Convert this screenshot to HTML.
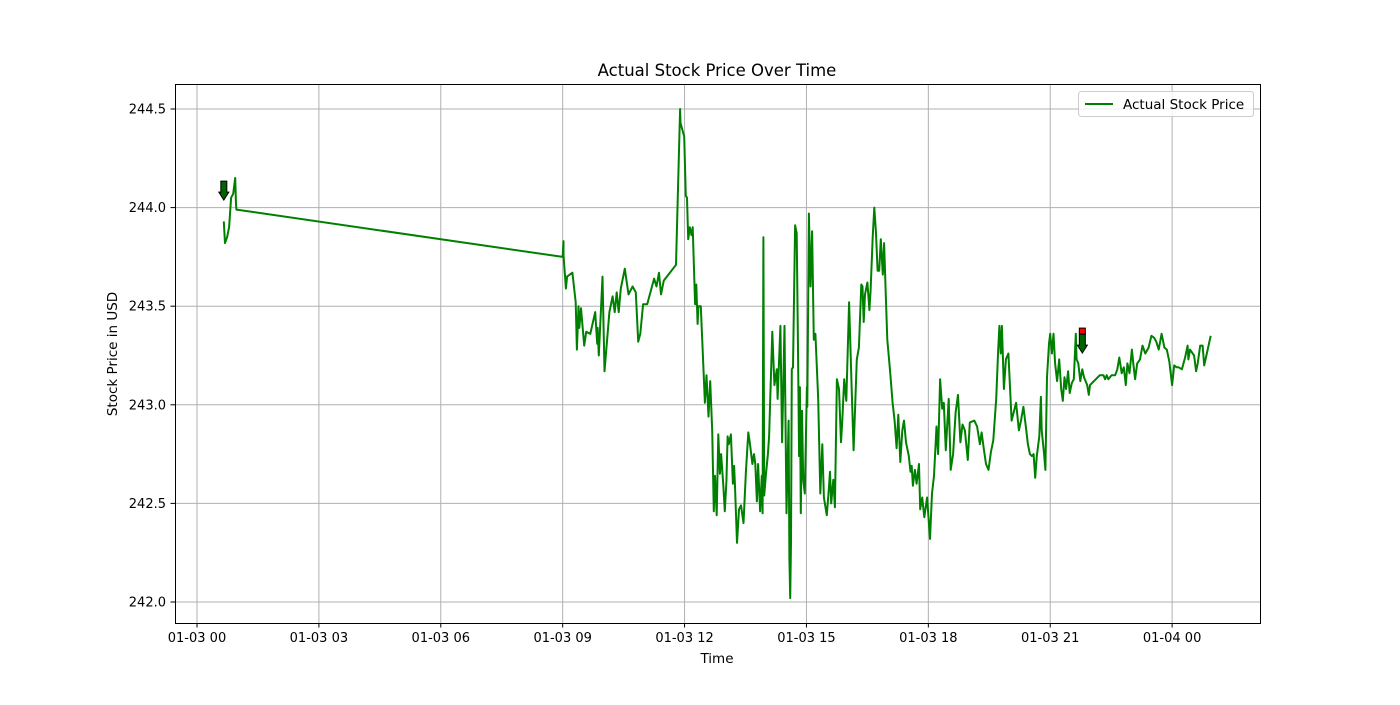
<!DOCTYPE html>
<html><head><meta charset="utf-8"><style>
html,body{margin:0;padding:0;background:#fff;}
svg text{font-family:"DejaVu Sans","Liberation Sans",sans-serif;fill:#000;}
</style></head><body>
<svg id="chart" width="1400" height="700" xmlns="http://www.w3.org/2000/svg">
<rect width="1400" height="700" fill="#fff"/>
<text x="717" y="76" font-size="16.5" text-anchor="middle">Actual Stock Price Over Time</text>
<g id="grid"></g>
<g id="series"></g>
<g id="markers"></g>
<rect x="175.5" y="84.5" width="1085" height="539" fill="none" stroke="#000" stroke-width="1"/>
<g id="xticks"></g><g id="yticks"></g>
<text x="717" y="663" font-size="13.5" text-anchor="middle">Time</text>
<text transform="translate(117,354) rotate(-90)" font-size="13.5" text-anchor="middle">Stock Price in USD</text>
<g>
<rect x="1078.5" y="91.5" width="175" height="25" rx="3" fill="#fff" fill-opacity="0.8" stroke="#ccc"/>
<line x1="1085" y1="104" x2="1113" y2="104" stroke="#008000" stroke-width="2"/>
<text x="1123" y="109" font-size="13.5">Actual Stock Price</text>
</g>
</svg>
<script>
const times=[0.66,0.69,0.74,0.79,0.84,0.89,0.94,0.96,0.97,9.0,9.02,9.02,9.08,9.11,9.24,9.32,9.35,9.39,9.41,9.45,9.53,9.58,9.68,9.80,9.85,9.86,9.89,9.98,10.03,10.15,10.23,10.28,10.33,10.38,10.43,10.53,10.62,10.72,10.80,10.86,10.91,10.98,11.08,11.25,11.31,11.37,11.42,11.49,11.79,11.89,11.90,11.99,12.03,12.06,12.09,12.13,12.17,12.20,12.26,12.29,12.32,12.34,12.40,12.50,12.54,12.59,12.63,12.68,12.72,12.75,12.79,12.83,12.87,12.90,12.95,12.99,13.03,13.06,13.09,13.14,13.19,13.22,13.24,13.29,13.34,13.39,13.45,13.51,13.57,13.61,13.67,13.71,13.74,13.78,13.81,13.86,13.90,13.92,13.94,13.96,14.00,14.05,14.08,14.16,14.21,14.27,14.29,14.36,14.40,14.46,14.51,14.56,14.58,14.60,14.62,14.64,14.67,14.72,14.76,14.79,14.82,14.84,14.86,14.89,14.92,14.96,15.01,15.02,15.06,15.10,15.14,15.18,15.22,15.29,15.34,15.39,15.43,15.50,15.55,15.58,15.61,15.66,15.70,15.75,15.80,15.85,15.88,15.93,15.98,16.05,16.11,16.16,16.24,16.29,16.35,16.38,16.41,16.44,16.50,16.55,16.58,16.63,16.67,16.71,16.75,16.79,16.83,16.88,16.91,16.95,16.99,17.06,17.12,17.17,17.22,17.26,17.31,17.36,17.40,17.45,17.52,17.56,17.59,17.62,17.67,17.71,17.77,17.80,17.85,17.90,17.97,18.04,18.09,18.14,18.20,18.24,18.29,18.34,18.38,18.43,18.50,18.55,18.61,18.67,18.73,18.79,18.84,18.90,18.97,19.02,19.13,19.20,19.27,19.31,19.37,19.42,19.48,19.54,19.60,19.67,19.72,19.75,19.78,19.81,19.86,19.91,19.97,20.05,20.11,20.16,20.19,20.23,20.28,20.34,20.41,20.45,20.50,20.55,20.59,20.63,20.67,20.73,20.77,20.79,20.85,20.88,20.92,20.97,21.00,21.04,21.08,21.12,21.17,21.22,21.27,21.31,21.35,21.39,21.44,21.48,21.53,21.58,21.63,21.65,21.69,21.74,21.79,21.83,21.87,21.91,21.95,21.98,22.22,22.31,22.35,22.39,22.43,22.51,22.60,22.65,22.70,22.76,22.81,22.86,22.90,22.95,23.01,23.05,23.09,23.14,23.21,23.27,23.34,23.42,23.49,23.56,23.61,23.67,23.74,23.81,23.87,23.93,24.00,24.05,24.11,24.16,24.24,24.32,24.38,24.40,24.44,24.54,24.59,24.63,24.69,24.75,24.79,24.95];
const prices=[243.93,243.82,243.85,243.90,244.05,244.07,244.15,244.02,243.99,243.75,243.83,243.76,243.59,243.65,243.67,243.52,243.28,243.50,243.39,243.49,243.30,243.37,243.36,243.47,243.31,243.39,243.25,243.65,243.17,243.47,243.55,243.47,243.57,243.47,243.59,243.69,243.56,243.60,243.57,243.32,243.36,243.51,243.51,243.64,243.60,243.67,243.56,243.63,243.71,244.50,244.43,244.36,244.06,244.05,243.84,243.90,243.86,243.90,243.51,243.61,243.41,243.50,243.50,243.01,243.15,242.94,243.12,242.87,242.46,242.64,242.44,242.85,242.65,242.75,242.60,242.46,242.61,242.84,242.80,242.85,242.60,242.69,242.60,242.30,242.47,242.49,242.40,242.66,242.86,242.80,242.70,242.75,242.70,242.51,242.70,242.46,242.64,242.45,243.85,242.54,242.64,242.75,242.84,243.37,243.10,243.18,243.03,243.40,242.81,243.40,242.45,242.92,242.22,242.02,242.30,243.18,243.19,243.91,243.87,243.33,242.74,243.09,242.45,242.97,242.62,242.55,243.09,242.99,243.97,243.60,243.88,243.33,243.36,243.03,242.55,242.80,242.53,242.44,242.57,242.66,242.50,242.62,242.48,243.13,243.08,242.81,242.91,243.13,243.02,243.52,243.11,242.77,243.23,243.29,243.61,243.60,243.42,243.56,243.62,243.48,243.58,243.85,244.00,243.88,243.68,243.68,243.84,243.66,243.82,243.57,243.33,243.17,243.01,242.92,242.78,242.95,242.71,242.87,242.92,242.81,242.74,242.66,242.69,242.59,242.67,242.60,242.70,242.47,242.53,242.43,242.53,242.32,242.55,242.64,242.89,242.75,243.13,242.98,243.01,242.77,243.03,242.67,242.75,242.96,243.05,242.81,242.90,242.87,242.72,242.91,242.92,242.89,242.80,242.86,242.77,242.70,242.67,242.76,242.82,243.03,243.28,243.40,243.26,243.40,243.08,243.23,243.26,242.92,242.97,243.01,242.95,242.87,242.92,242.99,242.87,242.80,242.75,242.74,242.75,242.63,242.74,242.84,243.04,242.87,242.75,242.67,243.14,243.31,243.36,243.26,243.36,243.21,243.12,243.23,243.08,243.02,243.14,243.08,243.17,243.06,243.11,243.13,243.36,243.23,243.21,243.12,243.18,243.14,243.12,243.10,243.05,243.10,243.15,243.15,243.13,243.15,243.13,243.15,243.15,243.18,243.24,243.16,243.19,243.10,243.21,243.16,243.28,243.20,243.13,243.21,243.23,243.30,243.26,243.29,243.35,243.34,243.32,243.28,243.36,243.29,243.28,243.22,243.10,243.20,243.19,243.19,243.18,243.24,243.30,243.23,243.28,243.25,243.17,243.21,243.30,243.30,243.20,243.35];
const xTickHours=[0,3,6,9,12,15,18,21,24];
const xTickLabels=["01-03 00","01-03 03","01-03 06","01-03 09","01-03 12","01-03 15","01-03 18","01-03 21","01-04 00"];
const yTickValues=[242.0,242.5,243.0,243.5,244.0,244.5];
const yTickLabels=["242.0","242.5","243.0","243.5","244.0","244.5"];
const signalTimes=[0.66,21.79];
const signalPrices=[244.094,243.318];
const signalTypes=["sell","both"];

const NS="http://www.w3.org/2000/svg";
const X0=197, XPH=40.63, Y0=109, YPU=197.2, YTOP=244.5;
function xs(t){return X0+t*XPH;}
function ys(p){return Y0+(YTOP-p)*YPU;}
function mk(tag,attrs,parent){const e=document.createElementNS(NS,tag);for(const k in attrs)e.setAttribute(k,attrs[k]);parent.appendChild(e);return e;}
const grid=document.getElementById('grid'),xt=document.getElementById('xticks'),yt=document.getElementById('yticks');
xTickHours.forEach((h,i)=>{const x=xs(h);
 const g=mk('line',{x1:x,x2:x,y1:84,y2:623,stroke:'#b0b0b0','stroke-width':1},grid);
 
 
 const t=mk('line',{x1:x,x2:x,y1:623,y2:627.5,stroke:'#000'},xt);
 
 
 const l=mk('text',{x:x,y:642,'font-size':13,'text-anchor':'middle'},xt);l.textContent=xTickLabels[i];
 
 
});
yTickValues.forEach((v,i)=>{const y=ys(v);
 const g=mk('line',{x1:175,x2:1260,y1:y,y2:y,stroke:'#b0b0b0','stroke-width':1},grid);
 
 
 const t=mk('line',{x1:170.5,x2:175,y1:y,y2:y,stroke:'#000'},yt);
 
 
 const l=mk('text',{x:166,y:y+4.5,'font-size':13,'text-anchor':'end'},yt);l.textContent=yTickLabels[i];
 
 
});
const pts=times.map((t,i)=>xs(t).toFixed(1)+','+ys(prices[i]).toFixed(1)).join(' ');
const line=mk('polyline',{points:pts,fill:'none',stroke:'#008000','stroke-width':2,'stroke-linejoin':'round'},document.getElementById('series'));


const mg=document.getElementById('markers');
signalTimes.forEach((t,i)=>{const x=xs(t),y=ys(signalPrices[i]);
 const a=mk('path',{d:`M${x-3},${y-8} L${x+3},${y-8} L${x+3},${y+3} L${x+5},${y+3} L${x},${y+11} L${x-5},${y+3} L${x-3},${y+3} Z`,fill:'#006400',stroke:'#000','stroke-width':1},mg);
 
 
 if(signalTypes[i]==='both'){const r=mk('rect',{x:x-3,y:y-14,width:6,height:6,fill:'#f00',stroke:'#000','stroke-width':1},mg);
  
  }
});
</script>
</body></html>
